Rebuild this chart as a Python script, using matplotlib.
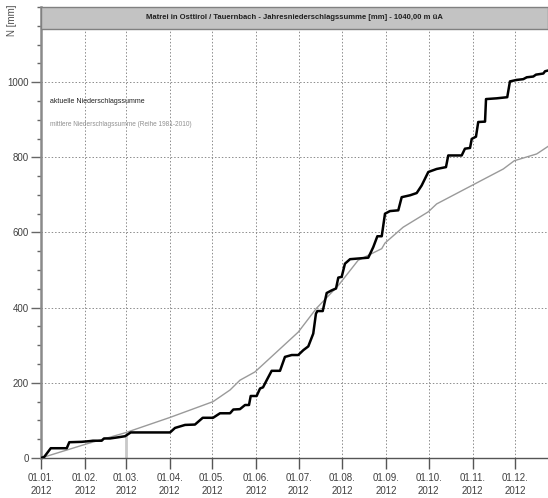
import numpy as np
import matplotlib.pyplot as plt
from matplotlib.patches import Rectangle

plt.rcParams['font.family'] = ['Liberation Sans', 'DejaVu Sans']

# Tage seit 01.01.2012 und Summe in mm
akt_tag = [0, 2.3, 6.9, 18.2, 20, 28.8, 34.6, 36.7, 42.9, 44.5, 48.8, 54.4, 59.4, 63.4,
           91.2, 94.7, 101.8, 108.8, 114.3, 121.6, 126.5, 133.6, 135.9, 140.6, 144.2, 147,
           148.2, 152.4, 154.8, 156.9, 159.5, 163, 168.9, 172.4, 177.2, 181.8, 185.4, 188.9,
           192.4, 194.3, 195.3, 199.1, 201.9, 205.4, 208.5, 210.1, 212.5, 214.8, 218.4, 231.3,
           234.8, 237.7, 240.8, 243.1, 246.6, 252.5, 254.9, 260.8, 265.5, 269, 273.7, 279.6,
           286.2, 287.8, 297.3, 299.6, 303.2, 304.4, 307.4, 309, 313.8, 314.5, 322, 329.5,
           331.4, 336.2, 340.8, 343.3, 347.9, 349.8, 355, 356.2, 358.3]
akt_mm = [0, 3, 26, 26, 42, 43, 45, 46, 46, 52, 52, 55, 58, 68,
          68, 80, 88, 89, 107, 107, 119, 119, 129, 130, 141, 141,
          165, 165, 185, 188, 207, 232, 232, 269, 274, 274, 287, 297,
          331, 384, 391, 391, 439, 446, 451, 480, 482, 517, 529, 533,
          561, 590, 590, 650, 657, 659, 694, 699, 705, 725, 761, 769,
          774, 805, 805, 823, 825, 849, 855, 894, 895, 955, 957, 960,
          1002, 1006, 1008, 1013, 1015, 1020, 1023, 1029, 1031]

mit_tag = [0, 31.8, 59.4, 91.2, 121.6, 133.6, 140.6, 151.2, 181.8, 194.6, 210.1, 224.1,
           240.8, 243.1, 255.9, 273.7, 279.6, 304.4, 326.7, 334.5, 350.3, 358.3]
mit_mm = [0, 37, 67, 108, 150, 181, 207, 229, 335, 398, 459, 526,
          557, 572, 614, 655, 676, 725, 769, 791, 809, 829]

monat_tag = [0, 31, 60, 91, 121, 152, 182, 213, 244, 274, 305, 335]
monat_lab = ['01.01.\n2012', '01.02.\n2012', '01.03.\n2012', '01.04.\n2012',
             '01.05.\n2012', '01.06.\n2012', '01.07.\n2012', '01.08.\n2012',
             '01.09.\n2012', '01.10.\n2012', '01.11.\n2012', '01.12.\n2012']

titel = 'Matrei in Osttirol / Tauernbach - Jahresniederschlagssumme [mm] - 1040,00 m üA'

fig = plt.figure(figsize=(5.48, 4.98), dpi=100)
ax = fig.add_axes([41/548, 40/498, 507/548, 451/498])

ax.set_xlim(0, 358.3)
ax.set_ylim(0, 1200)

# Gitter
for t in monat_tag[1:]:
    ax.axvline(t, color='#8c8c8c', lw=0.7, ls=(0, (1.5, 2)), zorder=1)
for v in range(200, 1200, 200):
    ax.axhline(v, color='#8c8c8c', lw=0.7, ls=(0, (1.5, 2)), zorder=1)

ax.vlines(60, 0, 62, color='#c8c8c8', lw=2, zorder=2)
ax.plot(mit_tag, mit_mm, color='#9a9a9a', lw=1.0, zorder=3)
ax.plot(akt_tag, akt_mm, color='black', lw=1.8, zorder=4)

# Titelbalken
ax.add_patch(Rectangle((0, 1142), 358.3, 58, facecolor='#c3c3c3', edgecolor='#808080',
                       lw=1, zorder=5, clip_on=False))
ax.text(179, 1171, titel, ha='center', va='center', fontsize=5.5, fontweight='bold',
        color='#202020', zorder=6)

ax.text(6.4, 948, 'aktuelle Niederschlagssumme', fontsize=5, color='#202020', va='center')
ax.text(6.4, 887, 'mittlere Niederschlagssumme (Reihe 1981-2010)', fontsize=4.7,
        color='#909090', va='center')

for s in ['top', 'right']:
    ax.spines[s].set_visible(False)
ax.spines['left'].set_color('#8a8a8a')
ax.spines['left'].set_linewidth(1.8)
ax.spines['bottom'].set_color('#555555')
ax.spines['bottom'].set_linewidth(1.0)

ax.set_xticks(monat_tag)
ax.set_xticklabels(monat_lab, fontsize=7, color='#404040', linespacing=1.35)
ax.tick_params(axis='x', length=8, width=1, color='#555555', pad=3)
ax.set_yticks(range(0, 1001, 200))
ax.set_yticklabels([str(v) for v in range(0, 1001, 200)], fontsize=7, color='#404040')
ax.set_yticks(np.arange(0, 1201, 50), minor=True)
ax.tick_params(axis='y', which='major', length=7, width=1, color='#666666', pad=2)
ax.tick_params(axis='y', which='minor', length=3, width=1, color='#666666')

fig.text(12/548, 1 - 20/498, 'N [mm]', rotation=90, ha='center', va='center',
         fontsize=7, color='#505050')

fig.savefig('out.png', dpi=100)
